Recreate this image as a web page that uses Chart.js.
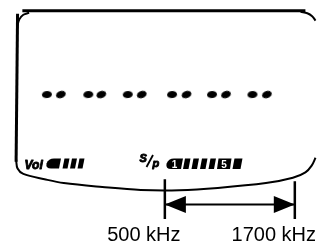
<!DOCTYPE html>
<html><head><meta charset="utf-8">
<script src="https://cdn.jsdelivr.net/npm/chart.js@4"></script>
<style>html,body{margin:0;padding:0;background:#fff}canvas{display:block}</style>
</head><body>
<canvas id="c" width="322" height="247"></canvas>
<script>
// ---- data ----
const bandKHz = [500, 1700];
const tickLabels = ['500 kHz', '1700 kHz'];
const segmentX = [42.5, 57, 85.5, 99, 126.5, 141, 172.5, 187.5, 214, 228.5, 256, 271];
const segmentY = [91, 91, 91, 91, 91, 91, 91, 91, 91, 91, 91, 91];
const volumeBars = 4;
const presetLabels = ['1', '5'];

// ---- layout ----
const W = 322, AREA_H = 223;
const tickPx = [165, 300];
const kPerPx = (bandKHz[1] - bandKHz[0]) / (tickPx[1] - tickPx[0]);
const fMin = bandKHz[0] - tickPx[0] * kPerPx;
const fMax = bandKHz[1] + (W - tickPx[1]) * kPerPx;
const arrowY = 204;

const P = (a) => a.map(([x, y]) => ({x, y}));
const frameTop = P([[17, 5], [311, 5]]);
const frameTopRight = P([[306, 6], [313, 7.5], [318, 10.5], [321.5, 15]]);
const frameTopLeft = P([[11.5, 21], [14, 13.5], [18, 9], [24, 7]]);
const frameLeft = P([[12, 8], [10.5, 160]]);
const frameBottom = P([[10.5, 158], [12, 167], [18, 172.5], [40, 178], [60, 182], [100, 186], [140, 189], [180, 189.3], [220, 187], [270, 182], [298, 176.5], [311, 171], [317.5, 164], [321.5, 156]]);

const dot = document.createElement('canvas');
dot.width = 12; dot.height = 9;
{ const g = dot.getContext('2d'); g.fillStyle = '#000'; g.beginPath(); g.ellipse(6, 4.5, 5, 3.6, 0, 0, Math.PI * 2); g.fill(); }

const line = (data, w, extra) => Object.assign({data, showLine: true, borderColor: '#000', borderWidth: w, pointRadius: 0, fill: false, clip: false, xAxisID: 'x', yAxisID: 'y'}, extra || {});

function skewBar(ctx, x0, x1, top, bot, sk) {
  ctx.beginPath();
  ctx.moveTo(x0 + sk, top); ctx.lineTo(x1 + sk, top); ctx.lineTo(x1, bot); ctx.lineTo(x0, bot);
  ctx.closePath(); ctx.fill();
}
function roundBlock(ctx, x0, x1, top, bot, sk) {
  const mid = (top + bot) / 2;
  ctx.beginPath();
  ctx.moveTo(x0 + 6 + sk, top);
  ctx.lineTo(x1 + sk, top);
  ctx.lineTo(x1, bot);
  ctx.lineTo(x0 + 5, bot);
  ctx.quadraticCurveTo(x0 - 0.5, bot, x0 + 0.5, mid);
  ctx.quadraticCurveTo(x0 + 1.5 + sk / 2, top, x0 + 6 + sk, top);
  ctx.closePath(); ctx.fill();
}
function heavyText(ctx, t, x, y) {
  ctx.lineWidth = 0.9; ctx.lineJoin = 'round';
  ctx.strokeText(t, x, y); ctx.fillText(t, x, y);
}

const indicators = {
  id: 'indicators',
  afterDatasetsDraw(chart) {
    const ctx = chart.ctx;
    ctx.save();
    ctx.fillStyle = '#000'; ctx.strokeStyle = '#000';
    ctx.textBaseline = 'alphabetic'; ctx.textAlign = 'left';
    // Vol
    ctx.font = "italic bold 12px 'Liberation Sans', Arial";
    heavyText(ctx, 'Vol', 24.5, 168.5);
    roundBlock(ctx, 46, 59, 158.5, 168.5, 2);
    for (let i = 1; i < volumeBars; i++) {
      const x0 = 55 + i * 7.5;
      skewBar(ctx, x0, x0 + 5, 158.5, 168.5, 2);
    }
    // S/p
    ctx.font = "italic bold 11px 'Liberation Sans', Arial";
    heavyText(ctx, 'S', 139.5, 161.5);
    ctx.lineWidth = 1.8;
    ctx.beginPath(); ctx.moveTo(146.5, 167); ctx.lineTo(153, 155); ctx.stroke();
    heavyText(ctx, 'p', 152.5, 167);
    roundBlock(ctx, 166, 181, 158.5, 169, 2);
    for (let i = 0; i < 4; i++) {
      const x0 = 183 + i * 8.5;
      skewBar(ctx, x0, x0 + 5.5, 158.5, 169, 2);
    }
    skewBar(ctx, 217, 230, 158.5, 169, 1.5);
    skewBar(ctx, 232.5, 240.5, 158.5, 169, 2);
    ctx.fillStyle = '#fff';
    ctx.font = "bold 10px 'Liberation Sans', Arial";
    ctx.textAlign = 'center';
    ctx.fillText(presetLabels[0], 174.5, 168);
    ctx.fillText(presetLabels[1], 224, 168);
    ctx.restore();
  }
};

const arrowHeads = {
  id: 'arrowHeads',
  afterDatasetsDraw(chart) {
    const ctx = chart.ctx, fx = chart.scales.freq, y = chart.scales.y.getPixelForValue(arrowY);
    const a = fx.getPixelForValue(bandKHz[0]), b = fx.getPixelForValue(bandKHz[1]);
    ctx.save(); ctx.fillStyle = '#000';
    ctx.beginPath(); ctx.moveTo(a, y); ctx.lineTo(a + 21, y - 8.5); ctx.lineTo(a + 21, y + 8.5); ctx.closePath(); ctx.fill();
    ctx.beginPath(); ctx.moveTo(b, y); ctx.lineTo(b - 21, y - 8.5); ctx.lineTo(b - 21, y + 8.5); ctx.closePath(); ctx.fill();
    ctx.restore();
  }
};

new Chart(document.getElementById('c'), {
  type: 'scatter',
  data: {
    datasets: [
      line(frameTop, 3),
      line(frameTopRight, 2, {tension: 0.4}),
      line(frameTopLeft, 2, {tension: 0.4}),
      line(frameLeft, 3),
      line(frameBottom, 2, {tension: 0.35}),
      {data: segmentX.map((x, i) => ({x, y: segmentY[i]})), pointStyle: dot, pointRadius: 5,
       pointRotation: (c) => (c.dataIndex % 2 ? -20 : -5), backgroundColor: '#000', borderColor: '#000',
       xAxisID: 'x', yAxisID: 'y', clip: false},
      line([{x: bandKHz[0], y: arrowY}, {x: bandKHz[1], y: arrowY}], 2, {xAxisID: 'freq'}),
      line([{x: bandKHz[0], y: 178}, {x: bandKHz[0], y: 219}], 2.5, {xAxisID: 'freq'}),
      line([{x: bandKHz[1], y: 180}, {x: bandKHz[1], y: 219}], 2.5, {xAxisID: 'freq'})
    ]
  },
  options: {
    responsive: false, animation: false, events: [],
    layout: {padding: 0},
    plugins: {legend: {display: false}, tooltip: {enabled: false}},
    scales: {
      x: {type: 'linear', min: 0, max: W, display: false},
      y: {type: 'linear', min: 0, max: AREA_H, reverse: true, display: false},
      freq: {
        type: 'linear', axis: 'x', position: 'bottom', min: fMin, max: fMax,
        afterBuildTicks: (s) => { s.ticks = bandKHz.map((v) => ({value: v})); },
        afterFit: (s) => { s.paddingLeft = 0; s.paddingRight = 0; },
        grid: {display: false, drawTicks: false},
        border: {display: false},
        ticks: {
          color: '#000', padding: 2, labelOffset: -21, maxRotation: 0, minRotation: 0, autoSkip: false,
          font: {family: "'Liberation Sans', Arial, sans-serif", size: 20, lineHeight: 1},
          callback: (v, i) => tickLabels[i]
        }
      }
    }
  },
  plugins: [indicators, arrowHeads]
});
</script>
</body></html>
